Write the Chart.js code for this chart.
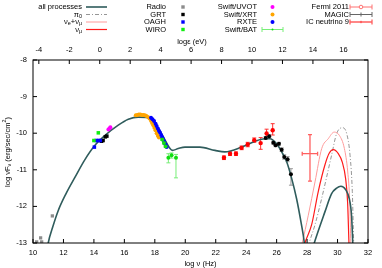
<!DOCTYPE html>
<html><head><meta charset="utf-8">
<script src="https://cdn.jsdelivr.net/npm/chart.js@4"></script>
<style>html,body{margin:0;padding:0;background:#fff}#wrap{width:382px;height:268px;position:relative}</style>
</head><body><div id="wrap"><canvas id="c" width="382" height="268"></canvas></div>
<script>
// ---- axes ----
const xTicks = [10,12,14,16,18,20,22,24,26,28,30,32];
const yTicks = [-13,-12,-11,-10,-9,-8];
const topTicks = [-4,-2,0,2,4,6,8,10,12,14,16];
const LOG_NU_PER_EV = 14.383; // log(nu/Hz) = log(E/eV) + 14.383

// ---- observations ----
const radioX = [10.24, 10.5, 10.57, 11.27];
const radioY = [-12.97, -12.86, -12.97, -12.26];
const grtX = [14.5, 14.6, 14.75, 14.85];
const grtY = [-10.22, -10.2, -10.1, -10.08];
const oaghX = [14.03, 14.15, 14.3, 14.42];
const oaghY = [-10.38, -10.2, -10.2, -10.2];
const wiroX = [14.0, 14.29];
const wiroY = [-10.2, -9.99];
const uvotX = [14.95, 15.02, 15.08];
const uvotY = [-9.9, -9.87, -9.84];
const xrtX = [16.75,16.85,16.95,17.05,17.15,17.25,17.35,17.45,17.55,17.65,17.75,17.82,17.9,17.97,18.04,18.12,18.2,18.27];
const xrtY = [-9.51,-9.5,-9.49,-9.49,-9.5,-9.5,-9.51,-9.53,-9.56,-9.6,-9.66,-9.72,-9.78,-9.85,-9.92,-10.0,-10.07,-10.12];
const rxteX = [17.75,17.85,17.95,18.05,18.12,18.2,18.27,18.34,18.42,18.49,18.56,18.62,18.7,18.78];
const rxteY = [-9.58,-9.62,-9.67,-9.74,-9.8,-9.87,-9.93,-9.98,-10.05,-10.11,-10.18,-10.24,-10.31,-10.38];
const batX = [18.49, 18.6, 18.71, 18.89, 19.1, 19.39];
const batY = [-10.17, -10.27, -10.36, -10.67, -10.6, -10.67];
const batLo = [-10.2, -10.3, -10.39, -10.81, -10.68, -11.22];
const batHi = [-10.14, -10.24, -10.33, -10.56, -10.54, -10.58];
const fermiX = [22.54, 22.94, 23.33, 23.7, 24.1, 24.53, 24.95, 25.34, 25.74];
const fermiY = [-10.67, -10.56, -10.56, -10.40, -10.31, -10.19, -10.27, -10.01, -9.92];
const fermiLo = [-10.72, -10.61, -10.61, -10.45, -10.37, -10.25, -10.44, -10.13, -10.05];
const fermiHi = [-10.62, -10.51, -10.51, -10.35, -10.25, -10.13, -10.12, -9.89, -9.74];
const magicX = [25.28, 25.51, 25.78, 25.93, 26.15, 26.33, 26.5, 26.72, 26.94];
const magicY = [-10.13, -10.08, -10.26, -10.33, -10.29, -10.45, -10.65, -10.71, -11.12];
const magicLo = [-10.17, -10.12, -10.3, -10.37, -10.33, -10.5, -10.71, -10.78, -11.42];
const magicHi = [-10.09, -10.04, -10.22, -10.29, -10.25, -10.4, -10.59, -10.64, -10.97];
const icX = [28.19], icY = [-10.56], icLo = [-11.31], icHi = [-10.04], icXLo = [27.68], icXHi = [28.69];

// ---- model curves ----
const allX = [10.9,11.0,11.29,11.66,12.17,12.76,13.41,14.07,14.73,15.6,16.26,16.91,17.47,18.01,18.56,19.0,19.15,19.54,19.98,20.96,21.95,22.6,23.7,24.58,25.23,25.56,26.0,26.33,26.66,26.99,27.31,27.6,27.82,27.86];
const allY = [-13.3,-13.0,-12.57,-12.11,-11.65,-11.2,-10.72,-10.33,-10.06,-9.78,-9.62,-9.56,-9.57,-9.74,-10.1,-10.42,-10.47,-10.42,-10.38,-10.38,-10.47,-10.51,-10.38,-10.22,-10.15,-10.15,-10.29,-10.51,-10.78,-11.24,-11.79,-12.43,-13.0,-13.2];
const all2X = [28.4,28.47,29.17,29.61,29.94,30.22,30.53,30.77,30.92,31.0,31.02];
const all2Y = [-13.1,-13.0,-12.15,-11.65,-11.5,-11.45,-11.54,-11.79,-12.25,-13.0,-13.2];
const pi0X = [28.08,28.14,28.52,28.96,29.61,29.94,30.31,30.6,30.82,30.97,31.06,31.08];
const pi0Y = [-13.1,-13.0,-12.5,-11.78,-10.6,-10.01,-9.85,-10.01,-10.6,-11.6,-13.0,-13.2];
const nuAllX = [27.62,27.68,28.08,28.52,28.96,29.39,29.78,30.12,30.45,30.67,30.8,30.87,30.89];
const nuAllY = [-13.1,-13.0,-12.24,-11.33,-10.42,-10.15,-9.97,-10.06,-10.42,-11.06,-11.88,-13.0,-13.2];
const numuX = [27.8,27.86,28.3,28.73,29.17,29.45,29.72,30.05,30.31,30.53,30.66,30.75,30.77];
const numuY = [-13.1,-13.0,-12.5,-11.6,-10.87,-10.55,-10.45,-10.56,-10.79,-11.24,-11.88,-13.0,-13.2];

const FONT = '"Liberation Sans", Arial, Helvetica, sans-serif';
const FS = 7.5;
const C = {
  all:'#2f5c5c', pi0:'#8a8a8a', nuAll:'#ff9a9a', numu:'#ff1a1a',
  radio:'#8c8c8c', grt:'#000000', oagh:'#0000ff', wiro:'#11ee11',
  uvot:'#ff00ff', xrt:'#ffa500', rxte:'#0000ff', bat:'#11dd11', batErr:'#77ee77',
  fermi:'#ff0000', fermiErr:'#ff3030', fermiKey:'#ff7070', magic:'#000000', magicErr:'#999999', magicKey:'#666666', ic:'#ff6060'
};

const pts = (xs, ys) => xs.map((x, i) => ({x, y: ys[i]}));
function scatterDS(xs, ys, color, style, r) {
  return {type:'scatter', data: pts(xs, ys), pointStyle: style, pointRadius: r,
    backgroundColor: color, borderColor: color, borderWidth: 0, showLine: false};
}
function lineDS(xs, ys, color, w, dash) {
  return {type:'line', data: pts(xs, ys), borderColor: color, borderWidth: w, borderDash: dash || [],
    pointRadius: 0, fill: false, tension: 0.4, cubicInterpolationMode: 'monotone'};
}

const datasets = [
  scatterDS(icX, icY, C.ic, 'circle', 0),
  scatterDS(magicX, magicY, C.magic, 'circle', 2),
  scatterDS(fermiX, fermiY, C.fermi, 'circle', 2.2),
  scatterDS(batX, batY, C.bat, 'circle', 2),
  scatterDS(rxteX, rxteY, C.rxte, 'circle', 2),
  scatterDS(xrtX, xrtY, C.xrt, 'circle', 2),
  scatterDS(uvotX, uvotY, C.uvot, 'circle', 2),
  scatterDS(wiroX, wiroY, C.wiro, 'rect', 2.5),
  scatterDS(oaghX, oaghY, C.oagh, 'rect', 2.5),
  scatterDS(grtX, grtY, C.grt, 'rect', 2.5),
  scatterDS(radioX, radioY, C.radio, 'rect', 2.3),
  lineDS(allX, allY, C.all, 1.6),
  lineDS(all2X, all2Y, C.all, 1.6),
  lineDS(numuX, numuY, C.numu, 1.2),
  lineDS(nuAllX, nuAllY, C.nuAll, 1),
  lineDS(pi0X, pi0Y, C.pi0, 0.9, [4, 2, 1, 2]),
];

const errSets = [
  {xs: batX, lo: batLo, hi: batHi, color: C.batErr},
  {xs: fermiX, lo: fermiLo, hi: fermiHi, color: C.fermiErr},
  {xs: magicX, lo: magicLo, hi: magicHi, color: C.magicErr},
  {xs: icX, lo: icLo, hi: icHi, xlo: icXLo, xhi: icXHi, ys: icY, color: C.ic, w: 1.3},
];

function rich(ctx, parts, x, y, align) {
  const small = FS * 0.72;
  let w = 0;
  parts.forEach(p => { ctx.font = (p[1] ? small : FS) + 'px ' + FONT; w += ctx.measureText(p[0]).width; });
  let cx = align === 'right' ? x - w : (align === 'center' ? x - w / 2 : x);
  ctx.textAlign = 'left'; ctx.textBaseline = 'middle';
  parts.forEach(p => {
    ctx.font = (p[1] ? small : FS) + 'px ' + FONT;
    const dy = p[1] === 1 ? 2 : (p[1] === 2 ? -2.5 : 0);
    ctx.fillText(p[0], cx, y + dy);
    cx += ctx.measureText(p[0]).width;
  });
}

const deco = {
  id: 'deco',
  beforeDatasetsDraw(chart) {
    const ctx = chart.ctx, xs = chart.scales.x, ys = chart.scales.y, a = chart.chartArea;
    ctx.save();
    ctx.beginPath(); ctx.rect(a.left, a.top, a.right - a.left, a.bottom - a.top); ctx.clip();
    errSets.forEach(s => {
      ctx.strokeStyle = s.color; ctx.lineWidth = s.w || 1;
      s.xs.forEach((xv, i) => {
        const px = xs.getPixelForValue(xv), y1 = ys.getPixelForValue(s.lo[i]), y2 = ys.getPixelForValue(s.hi[i]);
        ctx.beginPath();
        ctx.moveTo(px, y1); ctx.lineTo(px, y2);
        ctx.moveTo(px - 2, y1); ctx.lineTo(px + 2, y1);
        ctx.moveTo(px - 2, y2); ctx.lineTo(px + 2, y2);
        if (s.xlo) {
          const py = ys.getPixelForValue(s.ys[i]);
          const x1 = xs.getPixelForValue(s.xlo[i]), x2 = xs.getPixelForValue(s.xhi[i]);
          ctx.moveTo(x1, py); ctx.lineTo(x2, py);
          ctx.moveTo(x1, py - 2); ctx.lineTo(x1, py + 2);
          ctx.moveTo(x2, py - 2); ctx.lineTo(x2, py + 2);
        }
        ctx.stroke();
      });
    });
    ctx.restore();
  },
  afterDraw(chart) {
    const ctx = chart.ctx, a = chart.chartArea, sx = chart.scales.x, sy = chart.scales.y, st = chart.scales.x2;
    ctx.save();
    // frame
    ctx.strokeStyle = '#000'; ctx.lineWidth = 1;
    ctx.strokeRect(a.left, a.top, a.right - a.left, a.bottom - a.top);
    // inward ticks
    ctx.beginPath();
    xTicks.forEach(v => { const p = sx.getPixelForValue(v); ctx.moveTo(p, a.bottom); ctx.lineTo(p, a.bottom - 4); });
    topTicks.forEach(v => { const p = st.getPixelForValue(v); ctx.moveTo(p, a.top); ctx.lineTo(p, a.top + 4); });
    yTicks.forEach(v => { const p = sy.getPixelForValue(v);
      ctx.moveTo(a.left, p); ctx.lineTo(a.left + 4, p); ctx.moveTo(a.right, p); ctx.lineTo(a.right - 4, p); });
    ctx.stroke();
    ctx.fillStyle = '#000';
    // top title
    rich(ctx, [['logε (eV)', 0]], 192, 42, 'center');
    // y title
    ctx.save(); ctx.translate(7.5, 152); ctx.rotate(-Math.PI / 2);
    rich(ctx, [['log νF', 0], ['ν', 1], [' (erg/sec/cm', 0], ['2', 2], [')', 0]], 0, 0, 'center');
    ctx.restore();
    // legend
    const rows = [7, 14.5, 22, 29.5];
    const lineKey = (x1, x2, y, color, w, dash) => {
      ctx.save(); ctx.strokeStyle = color; ctx.lineWidth = w; ctx.setLineDash(dash || []);
      ctx.beginPath(); ctx.moveTo(x1, y); ctx.lineTo(x2, y); ctx.stroke(); ctx.restore();
    };
    const capKey = (x1, x2, y, color, w) => {
      ctx.save(); ctx.strokeStyle = color; ctx.lineWidth = w || 1; ctx.beginPath();
      ctx.moveTo(x1, y); ctx.lineTo(x2, y);
      ctx.moveTo(x1, y - 2.5); ctx.lineTo(x1, y + 2.5);
      ctx.moveTo(x2, y - 2.5); ctx.lineTo(x2, y + 2.5);
      ctx.stroke(); ctx.restore();
    };
    const sq = (x, y, c) => { ctx.fillStyle = c; ctx.fillRect(x - 1.7, y - 1.7, 3.4, 3.4); };
    const dot = (x, y, c, r) => { ctx.fillStyle = c; ctx.beginPath(); ctx.arc(x, y, r || 2, 0, Math.PI * 2); ctx.fill(); };
    ctx.fillStyle = '#000';
    // block 1
    rich(ctx, [['all processes', 0]], 82, rows[0], 'right'); lineKey(86, 107, rows[0], C.all, 1.6);
    ctx.fillStyle = '#000';
    rich(ctx, [['π', 0], ['0', 1]], 82, rows[1], 'right'); lineKey(86, 107, rows[1], C.pi0, 0.9, [4, 2, 1, 2]);
    ctx.fillStyle = '#000';
    rich(ctx, [['ν', 0], ['e', 1], ['+ν', 0], ['μ', 1]], 82, rows[2], 'right'); lineKey(86, 107, rows[2], C.nuAll, 1);
    ctx.fillStyle = '#000';
    rich(ctx, [['ν', 0], ['μ', 1]], 82, rows[3], 'right'); lineKey(86, 107, rows[3], C.numu, 1.2);
    // block 2
    const b2 = [['Radio', C.radio], ['GRT', C.grt], ['OAGH', C.oagh], ['WIRO', C.wiro]];
    b2.forEach((e, i) => { ctx.fillStyle = '#000'; rich(ctx, [[e[0], 0]], 166, rows[i], 'right'); sq(183, rows[i], e[1]); });
    // block 3
    const b3 = [['Swift/UVOT', C.uvot], ['Swift/XRT', C.xrt], ['RXTE', C.rxte]];
    b3.forEach((e, i) => { ctx.fillStyle = '#000'; rich(ctx, [[e[0], 0]], 257, rows[i], 'right'); dot(272.5, rows[i], e[1], 2); });
    ctx.fillStyle = '#000'; rich(ctx, [['Swift/BAT', 0]], 257, rows[3], 'right');
    capKey(262, 283, rows[3], C.batErr, 1); dot(272.5, rows[3], C.bat, 1);
    // block 4
    ctx.fillStyle = '#000'; rich(ctx, [['Fermi 2011', 0]], 349, rows[0], 'right');
    capKey(350, 372, rows[0], C.fermiKey, 1);
    ctx.save(); ctx.strokeStyle = C.fermiKey; ctx.fillStyle = '#fff'; ctx.beginPath(); ctx.arc(361, rows[0], 1.8, 0, Math.PI * 2); ctx.fill(); ctx.stroke(); ctx.restore();
    ctx.fillStyle = '#000'; rich(ctx, [['MAGIC', 0]], 349, rows[1], 'right');
    capKey(350, 372, rows[1], C.magicKey, 1);
    ctx.save(); ctx.strokeStyle = C.magicKey; ctx.beginPath(); ctx.moveTo(361, rows[1] - 2); ctx.lineTo(361, rows[1] + 2); ctx.stroke(); ctx.restore();
    ctx.fillStyle = '#000'; rich(ctx, [['IC neutrino 9', 0]], 349, rows[2], 'right');
    capKey(350, 372, rows[2], C.ic, 1.3); dot(361, rows[2], C.ic, 1.2);
    ctx.restore();
  }
};

const tickFont = {family: FONT, size: FS};
new Chart(document.getElementById('c'), {
  data: {datasets},
  options: {
    responsive: false, animation: false, events: [],
    layout: {padding: {right: 14, left: 0, top: 0, bottom: 0}},
    plugins: {legend: {display: false}, tooltip: {enabled: false}},
    scales: {
      x: {type: 'linear', position: 'bottom', min: 10, max: 32,
        afterBuildTicks: s => { s.ticks = xTicks.map(v => ({value: v})); },
        afterFit: s => { s.height = 25; },
        grid: {display: false, drawTicks: false}, border: {display: false},
        ticks: {font: tickFont, color: '#000', padding: 5, autoSkip: false, maxRotation: 0, callback: v => String(v)},
        title: {display: true, text: 'log ν (Hz)', font: tickFont, color: '#000', padding: {top: 0, bottom: 0}}},
      x2: {type: 'linear', position: 'top', min: 10 - LOG_NU_PER_EV, max: 32 - LOG_NU_PER_EV,
        afterBuildTicks: s => { s.ticks = topTicks.map(v => ({value: v})); },
        afterFit: s => { s.height = 60; },
        grid: {display: false, drawTicks: false}, border: {display: false},
        ticks: {font: tickFont, color: '#000', padding: 6, autoSkip: false, maxRotation: 0, callback: v => String(v)}},
      y: {type: 'linear', position: 'left', min: -13, max: -8,
        afterBuildTicks: s => { s.ticks = yTicks.map(v => ({value: v})); },
        afterFit: s => { s.width = 33; },
        grid: {display: false, drawTicks: false}, border: {display: false},
        ticks: {font: tickFont, color: '#000', padding: 6, autoSkip: false, callback: v => String(v)}}
    }
  },
  plugins: [deco]
});
</script></body></html>
